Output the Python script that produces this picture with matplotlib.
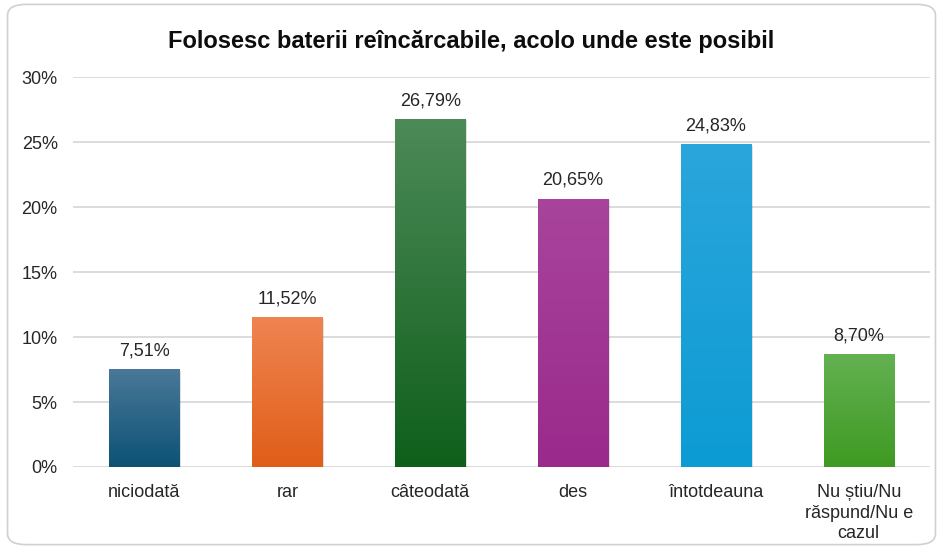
import numpy as np
import matplotlib
matplotlib.use("Agg")
import matplotlib.pyplot as plt
from matplotlib.colors import LinearSegmentedColormap
from matplotlib.patches import FancyBboxPatch

plt.rcParams['font.family'] = ['Liberation Sans', 'DejaVu Sans']

categories = ['niciodată', 'rar', 'câteodată', 'des', 'întotdeauna',
              'Nu știu/Nu\nrăspund/Nu e\ncazul']
values = [7.51, 11.52, 26.79, 20.65, 24.83, 8.70]
labels = ['7,51%', '11,52%', '26,79%', '20,65%', '24,83%', '8,70%']
top_colors = ['#4a7898', '#ef8452', '#4d8a58', '#a8449c', '#2aa6dc', '#64b152']
bottom_colors = ['#0c5275', '#e05e18', '#0f5f1b', '#9a2a8c', '#0d9bd3', '#3e9a22']
yticks = [0, 5, 10, 15, 20, 25, 30]

fig = plt.figure(figsize=(9.43, 5.49), dpi=100)
border = FancyBboxPatch((0.008, 0.008), 0.984, 0.984,
                        boxstyle="round,pad=0,rounding_size=0.02",
                        transform=fig.transFigure, facecolor='white',
                        edgecolor='#d0d0d0', linewidth=1.2, zorder=-5)
fig.patches.append(border)

ax = fig.add_axes([0.0774, 0.1494, 0.909, 0.710])
ax.set_facecolor('none')
ax.set_zorder(2)

x = np.arange(len(categories))
bars = ax.bar(x, values, width=0.49, color='none', zorder=3)

grad = np.linspace(0, 1, 256).reshape(-1, 1)
for b, c1, c2 in zip(bars, top_colors, bottom_colors):
    cmap = LinearSegmentedColormap.from_list('g', [c2, c1])
    bx, by = b.get_x(), b.get_y()
    w, h = b.get_width(), b.get_height()
    # soft shadow
    ax.bar(bx + w / 2 + 0.012, h, width=w, bottom=-0.1, color='#000000',
           alpha=0.12, zorder=2)
    im = ax.imshow(grad, extent=[bx, bx + w, by, by + h], origin='lower',
                   cmap=cmap, aspect='auto', zorder=3)
    im.set_clip_path(b)

for xi, v, lab in zip(x, values, labels):
    ax.text(xi, v + 0.75, lab, ha='center', va='bottom', fontsize=13,
            color='#262626')

ax.set_xlim(-0.5, len(categories) - 0.5)
ax.set_ylim(0, 30)
ax.set_yticks(yticks)
ax.set_yticklabels([f'{t}%' for t in yticks], fontsize=13, color='#262626')
ax.set_xticks(x)
ax.set_xticklabels(categories, fontsize=13, color='#262626', linespacing=1.3)
ax.tick_params(length=0)
ax.tick_params(axis='x', pad=12)
ax.tick_params(axis='y', pad=11)
ax.grid(axis='y', color='#d9d9d9', linewidth=1.3, zorder=0)
for s in ax.spines.values():
    s.set_visible(False)

fig.text(0.5, 0.925, 'Folosesc baterii reîncărcabile, acolo unde este posibil',
         ha='center', va='center', fontsize=17, fontweight='bold',
         color='#0d0d0d')

fig.savefig('out.png', dpi=100)
